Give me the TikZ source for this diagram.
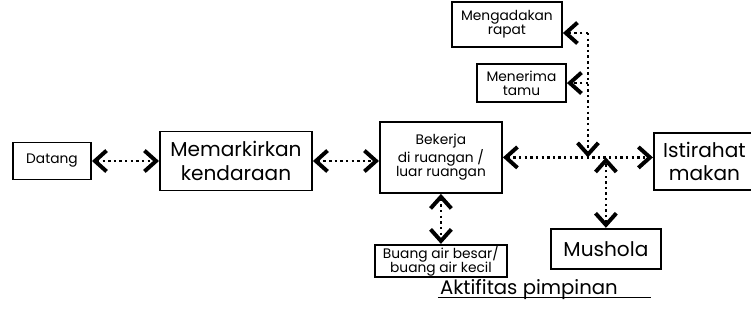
\documentclass[tikz,border=0pt]{standalone}
\usepackage{fontspec}
\setmainfont{Poppins}
\usetikzlibrary{arrows.meta,positioning,calc}
\tikzset{
  blk/.style={rectangle, draw=black, line width=1.4pt, align=center,
              font=\fontsize{9.8}{10.2}\selectfont, inner xsep=2pt, inner ysep=1pt},
  bigblk/.style={blk, font=\fontsize{14.3}{17}\selectfont},
  ar/.style={>={Straight Barb[length=2.9mm,width=5.2mm,line width=2.8pt]},
             line width=2pt, dash pattern=on 1.7pt off 2.3pt},
  ttl/.style={font=\fontsize{14}{16}\selectfont, inner sep=0pt},
}
\begin{document}
\begin{tikzpicture}
\useasboundingbox (-13mm,-42.5mm) rectangle (174.75mm,40.25mm);
% --- main row
\node[blk,minimum width=19.5mm,minimum height=9.25mm] (datang) {Datang};
\node[bigblk,minimum width=38mm,minimum height=14.75mm,right=16.75mm of datang] (parkir) {Memarkirkan\\kendaraan};
\node[blk,minimum width=30.5mm,minimum height=17.75mm,right=16.5mm of parkir,yshift=0.9mm] (kerja) {Bekerja\\di ruangan /\\luar ruangan};
\node[bigblk,minimum width=25.25mm,minimum height=14.25mm,right=37.5mm of kerja,yshift=-1mm] (makan) {Istirahat\\makan};
\node[blk,minimum width=33mm,minimum height=7.75mm,inner ysep=0.5pt,below=12.5mm of kerja] (wc) {Buang air besar/\\buang air kecil};
\draw[ar,<->] (datang) -- (parkir);
\draw[ar,<->] (parkir.east) -- (parkir.east -| kerja.west);
\draw[ar,<->] (kerja.east) -- (kerja.east -| makan.west);
\draw[ar,<->] (kerja) -- (wc);

% --- branch at the junction
\coordinate[right=21.25mm of kerja.east] (simpang);
\coordinate[above=31.1mm of simpang] (atas);
\node[blk,minimum width=27.5mm,minimum height=11.25mm,above left=27.4mm and 6.25mm of simpang] (rapat) {Mengadakan\\rapat};
\node[blk,minimum width=22.25mm,minimum height=9.5mm,above left=13.6mm and 5.25mm of simpang] (tamu) {Menerima\\tamu};
\node[bigblk,minimum width=27.5mm,minimum height=10mm,below=17.6mm of simpang,xshift=4.5mm] (mushola) {Mushola};
\draw[ar,->] (atas) -- (atas -| rapat.east);
\draw[ar,->] (tamu.east -| simpang) -- (tamu.east);
\draw[ar,->] (atas) -- (simpang);
\draw[ar,<->] (mushola) -- (mushola |- simpang);

% --- caption
\node[ttl,anchor=base] (judul) at ($(wc.south)+(22mm,-4mm)$) {Aktifitas pimpinan};
\draw[line width=1.4pt] ($(judul.base west)+(-0.5mm,-0.8mm)$) -- ($(judul.base east)+(8.25mm,-0.8mm)$);
\end{tikzpicture}
\end{document}
